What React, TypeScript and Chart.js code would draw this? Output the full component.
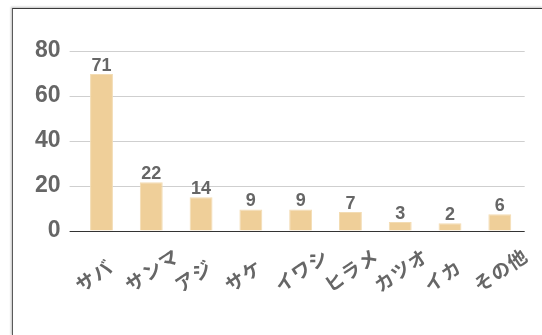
import React, { useEffect, useRef } from "react";
import { Chart, registerables } from "chart.js";

Chart.register(...registerables);

const categories = ["サバ", "サンマ", "アジ", "サケ", "イワシ", "ヒラメ", "カツオ", "イカ", "その他"];
const barValues = [69.8, 21.7, 15, 9.6, 9.6, 8.4, 4, 3.5, 7.5];
const valueLabels = ["71", "22", "14", "9", "9", "7", "3", "2", "6"];
const yMin = 0;
const yMax = 80;
const yStep = 20;

const CANVAS_W = 529;
const CANVAS_H = 326;

const valueLabelPlugin = {
  id: "valueLabels",
  afterDatasetsDraw(chart: any) {
    const ctx = chart.ctx;
    const meta = chart.getDatasetMeta(0);
    ctx.save();
    ctx.font = "bold 18px 'Liberation Sans', Arial, sans-serif";
    ctx.fillStyle = "#666";
    ctx.textAlign = "center";
    ctx.textBaseline = "alphabetic";
    meta.data.forEach((bar: any, i: number) => {
      ctx.fillText(valueLabels[i], bar.x, bar.y - 3);
    });
    ctx.restore();
  },
};

// category labels: rotated, left-aligned, starting below-left of each tick
const categoryLabelPlugin = {
  id: "categoryLabels",
  afterDraw(chart: any) {
    const ctx = chart.ctx;
    const xs = chart.scales.x;
    const bottom = chart.chartArea.bottom;
    ctx.save();
    ctx.font = "bold 19px 'Noto Sans CJK JP', sans-serif";
    ctx.fillStyle = "#666";
    ctx.textAlign = "left";
    ctx.textBaseline = "middle";
    try {
      (ctx as any).letterSpacing = "1px";
    } catch (e) {}
    categories.forEach((label, i) => {
      const x = xs.getPixelForTick(i);
      ctx.save();
      ctx.translate(x - 24, bottom + 56);
      ctx.rotate((-34 * Math.PI) / 180);
      ctx.fillText(label, 0, 0);
      ctx.restore();
    });
    ctx.restore();
  },
};

export default function App() {
  const ref = useRef<HTMLCanvasElement | null>(null);
  useEffect(() => {
    if (!ref.current) return;
    const chart = new Chart(ref.current, {
      type: "bar",
      data: {
        labels: categories,
        datasets: [
          {
            data: barValues,
            backgroundColor: "#EFCF99",
            borderColor: "#F3DCB3",
            borderWidth: 1,
            barPercentage: 0.46,
            categoryPercentage: 1,
          },
        ],
      },
      options: {
        responsive: false,
        animation: false,
        layout: { padding: { top: 42, right: CANVAS_W - 511.7, left: 0, bottom: 0 } },
        plugins: { legend: { display: false }, tooltip: { enabled: false } },
        scales: {
          x: {
            grid: { display: false },
            border: { display: false },
            ticks: { display: false, autoSkip: false },
            afterFit(scale: any) {
              scale.height = CANVAS_H - 222;
            },
          },
          y: {
            min: yMin,
            max: yMax,
            border: { display: false },
            grid: {
              color: (c: any) => (c.tick && c.tick.value === 0 ? "#333" : "#cfcfcf"),
              lineWidth: 1,
              tickLength: 7,
            },
            ticks: {
              stepSize: yStep,
              color: "#666",
              padding: 9,
              font: { family: "'Liberation Sans', Arial, sans-serif", size: 23, weight: "bold" },
            },
            afterFit(scale: any) {
              scale.width = 63.6;
            },
          },
        },
      },
      plugins: [valueLabelPlugin, categoryLabelPlugin],
    });
    return () => chart.destroy();
  }, []);

  return (
    <div
      style={{
        position: "fixed",
        left: 12,
        top: 8,
        width: 530,
        height: 327,
        borderTop: "1px solid #3a3a3a",
        borderLeft: "1px solid #5a5a5a",
        boxShadow: "-1px -1px 2px rgba(0,0,0,0.25)",
        background: "#fff",
        overflow: "hidden",
      }}
    >
      <canvas
        ref={ref}
        width={CANVAS_W}
        height={CANVAS_H}
        style={{ position: "absolute", left: 0, top: 0, width: CANVAS_W, height: CANVAS_H }}
      />
    </div>
  );
}
